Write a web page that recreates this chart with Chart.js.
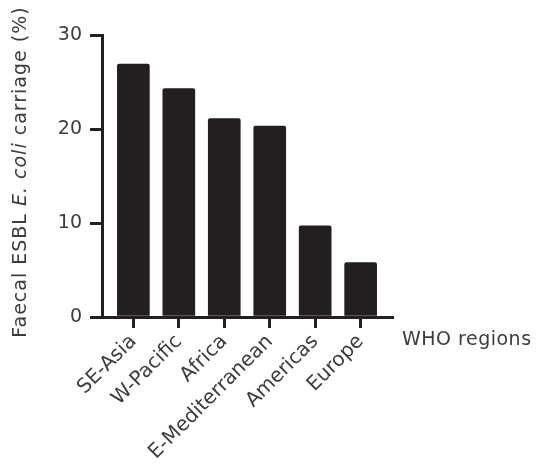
<!DOCTYPE html>
<html>
<head>
<meta charset="utf-8">
<title>Faecal ESBL E. coli carriage by WHO region</title>
<script src="https://cdn.jsdelivr.net/npm/chart.js/dist/chart.umd.min.js"></script>
<style>
  html, body { margin: 0; padding: 0; background: #fff; }
  #wrap { width: 543px; height: 472px; }
</style>
</head>
<body>
<div id="wrap"><canvas id="myChart"></canvas></div>
<script>
// data
const regions = ['SE-Asia', 'W-Pacific', 'Africa', 'E-Mediterranean', 'Americas', 'Europe'];
const carriage = [26.9, 24.3, 21.1, 20.3, 9.7, 5.8];
const yTicks = [0, 10, 20, 30];

const ink = '#231f20';
const textCol = '#3c3c3c';
const font = "'DejaVu Sans', 'Noto Sans', sans-serif";

// axis title on the left (has an italic part) and the "WHO regions" label
const titles = {
  id: 'titles',
  afterDraw(chart) {
    const ctx = chart.ctx;
    const area = chart.chartArea;
    ctx.save();
    ctx.fillStyle = textCol;
    ctx.textBaseline = 'middle';
    ctx.letterSpacing = '1px';

    const parts = [
      ['Faecal ESBL ', 'normal'],
      ['E. coli', 'italic'],
      [' carriage (%)', 'normal']
    ];
    let total = 0;
    parts.forEach(p => {
      ctx.font = p[1] + ' 19px ' + font;
      total += ctx.measureText(p[0]).width;
    });
    ctx.translate(21, 172);
    ctx.rotate(-Math.PI / 2);
    let x = -total / 2;
    ctx.textAlign = 'left';
    parts.forEach(p => {
      ctx.font = p[1] + ' 19px ' + font;
      ctx.fillText(p[0], x, 0);
      x += ctx.measureText(p[0]).width;
    });
    ctx.restore();

    ctx.save();
    ctx.fillStyle = textCol;
    ctx.font = '19px ' + font;
    ctx.letterSpacing = '0.5px';
    ctx.textBaseline = 'middle';
    ctx.textAlign = 'left';
    ctx.fillText('WHO regions', area.right + 10, area.bottom + 23);
    ctx.restore();
  }
};

const ctx = document.getElementById('myChart').getContext('2d');
new Chart(ctx, {
  type: 'bar',
  data: {
    datasets: [{
      data: regions.map((r, i) => ({ x: i, y: carriage[i] })),
      backgroundColor: ink,
      borderWidth: 0,
      borderRadius: { topLeft: 2, topRight: 2 },
      barThickness: 32
    }]
  },
  options: {
    responsive: true,
    maintainAspectRatio: false,
    animation: false,
    events: [],
    layout: { padding: { top: 35, right: 151, left: 0, bottom: 0 } },
    plugins: {
      legend: { display: false },
      tooltip: { enabled: false }
    },
    scales: {
      x: {
        type: 'linear',
        offset: false,
        min: -0.69,
        max: regions.length - 1 + 0.69,
        afterBuildTicks: s => { s.ticks = regions.map((r, i) => ({ value: i })); },
        afterFit: s => { s.height = 155; },
        grid: {
          offset: false,
          drawOnChartArea: false,
          drawTicks: true,
          tickLength: 11,
          lineWidth: 3,
          color: ink
        },
        border: { display: true, width: 3, color: ink },
        ticks: {
          autoSkip: false,
          minRotation: 45,
          maxRotation: 45,
          padding: 2,
          color: textCol,
          font: { family: font, size: 20 },
          callback: v => regions[v]
        }
      },
      y: {
        min: 0,
        max: 30,
        afterBuildTicks: s => { s.ticks = yTicks.map(v => ({ value: v })); },
        afterFit: s => { s.width = 102; },
        grid: {
          drawOnChartArea: false,
          drawTicks: true,
          tickLength: 12,
          lineWidth: 3,
          color: ink
        },
        border: { display: true, width: 3, color: ink },
        ticks: {
          padding: 8,
          color: textCol,
          font: { family: font, size: 19 }
        }
      }
    }
  },
  plugins: [titles]
});
</script>
</body>
</html>
